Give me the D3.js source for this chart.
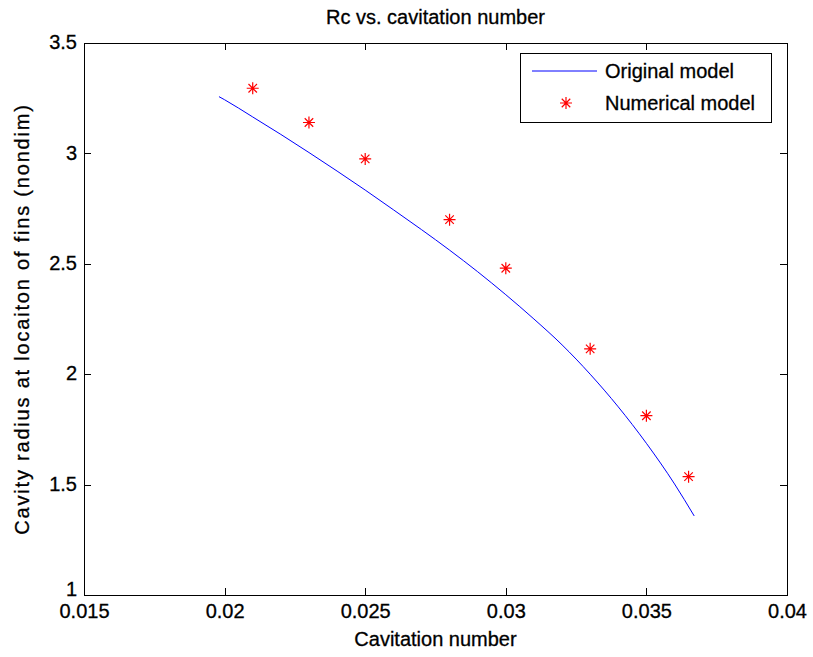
<!DOCTYPE html>
<html><head><meta charset="utf-8">
<script src="https://cdn.jsdelivr.net/npm/d3@7"></script>
<style>body{margin:0;background:#fff;} svg{display:block;} text{font-family:"Liberation Sans",Arial,sans-serif;}</style>
</head><body>
<svg id="chart" width="813" height="657"></svg>
<script>
const title = "Rc vs. cavitation number";
const xLabel = "Cavitation number";
const yLabel = "Cavity radius at locaiton of fins (nondim)";
const xTicks = [0.015, 0.02, 0.025, 0.03, 0.035, 0.04];
const xTickLabels = ["0.015", "0.02", "0.025", "0.03", "0.035", "0.04"];
const yTicks = [1, 1.5, 2, 2.5, 3, 3.5];
const yTickLabels = ["1", "1.5", "2", "2.5", "3", "3.5"];
// Original model (line)
const origX = [0.0198, 0.020, 0.021, 0.022, 0.023, 0.024, 0.025, 0.026, 0.027, 0.028, 0.029, 0.030, 0.031, 0.032, 0.033, 0.034, 0.035, 0.036, 0.0367];
const origY = [3.257, 3.243, 3.165, 3.086, 3.004, 2.920, 2.834, 2.745, 2.655, 2.562, 2.464, 2.360, 2.250, 2.133, 2.000, 1.852, 1.687, 1.503, 1.358];
// Numerical model (stars)
const numX = [0.021, 0.023, 0.025, 0.028, 0.030, 0.033, 0.035, 0.0365];
const numY = [3.295, 3.140, 2.975, 2.700, 2.480, 2.115, 1.812, 1.536];
const seriesNames = ["Original model", "Numerical model"];

const svg = d3.select("#chart");
const L = 84, R = 787, T = 43, B = 595;
const x = d3.scaleLinear().domain([0.015, 0.04]).range([L, R]);
const y = d3.scaleLinear().domain([1, 3.5]).range([B, T]);
const fontSize = 20;

function heavy(sel) {
  return sel.attr("stroke", "#000").attr("stroke-width", 0.3).attr("fill", "#000");
}

// box
svg.append("rect").attr("x", L).attr("y", T).attr("width", R - L).attr("height", B - T)
  .attr("fill", "#fff").attr("stroke", "#000").attr("stroke-width", 1).attr("shape-rendering", "crispEdges");

const tl = 7;
const xAxisB = d3.axisBottom(x).tickValues(xTicks).tickSize(-tl).tickPadding(9).tickFormat((d, i) => xTickLabels[i]);
const xAxisT = d3.axisTop(x).tickValues(xTicks).tickSize(-tl).tickFormat("");
const yAxisL = d3.axisLeft(y).tickValues(yTicks).tickSize(-tl).tickPadding(7).tickFormat((d, i) => yTickLabels[i]);
const yAxisR = d3.axisRight(y).tickValues(yTicks).tickSize(-tl).tickFormat("");

function style(g) {
  g.select(".domain").remove();
  g.selectAll(".tick line").attr("stroke", "#000").attr("shape-rendering", "crispEdges");
  g.selectAll(".tick text").call(heavy).style("font-size", fontSize + "px").attr("font-family", "Liberation Sans, Arial, sans-serif");
}
svg.append("g").attr("transform", `translate(0,${B})`).call(xAxisB).call(style);
svg.append("g").attr("transform", `translate(0,${T})`).call(xAxisT).call(style);
svg.append("g").attr("transform", `translate(${L},0)`).call(yAxisL).call(style)
  .selectAll(".tick text").attr("dy", (d, i) => i === 0 ? "0em" : "0.28em");
svg.append("g").attr("transform", `translate(${R},0)`).call(yAxisR).call(style);

// line
const lineData = origX.map((v, i) => [v, origY[i]]);
svg.append("path").datum(lineData)
  .attr("d", d3.line().x(d => x(d[0])).y(d => y(d[1])).curve(d3.curveMonotoneX))
  .attr("fill", "none").attr("stroke", "#0000ff").attr("stroke-width", 1);

// star marker
function starPath(s) {
  const d = s * 0.7071;
  return `M${-s},0L${s},0M0,${-s}L0,${s}M${-d},${-d}L${d},${d}M${-d},${d}L${d},${-d}`;
}
const numData = numX.map((v, i) => [v, numY[i]]);
svg.append("g").selectAll("path").data(numData).join("path")
  .attr("transform", d => `translate(${x(d[0])},${y(d[1])})`)
  .attr("d", starPath(6)).attr("stroke", "#ff0000").attr("stroke-width", 1.2).attr("fill", "none");

// title and labels
svg.append("text").attr("x", (L + R) / 2).attr("y", 24).attr("text-anchor", "middle")
  .style("font-size", fontSize + "px").call(heavy).text(title);
svg.append("text").attr("x", (L + R) / 2).attr("y", 646).attr("text-anchor", "middle")
  .style("font-size", fontSize + "px").call(heavy).text(xLabel);
svg.append("text").attr("transform", `translate(29,${(T + B) / 2}) rotate(-90)`).attr("text-anchor", "middle")
  .style("font-size", fontSize + "px").style("letter-spacing", "1.8px").call(heavy).text(yLabel);

// legend
const lg = svg.append("g");
lg.append("rect").attr("x", 520).attr("y", 53).attr("width", 251).attr("height", 69)
  .attr("fill", "#fff").attr("stroke", "#000").attr("shape-rendering", "crispEdges");
lg.append("line").attr("x1", 532).attr("x2", 597).attr("y1", 71).attr("y2", 71)
  .attr("stroke", "#0000ff").attr("stroke-width", 1);
lg.append("path").attr("transform", "translate(566,103)").attr("d", starPath(6))
  .attr("stroke", "#ff0000").attr("stroke-width", 1.2).attr("fill", "none");
lg.append("text").attr("x", 605).attr("y", 78).style("font-size", fontSize + "px").call(heavy).text(seriesNames[0]);
lg.append("text").attr("x", 605).attr("y", 110).style("font-size", fontSize + "px").call(heavy).text(seriesNames[1]);
</script>
</body></html>
